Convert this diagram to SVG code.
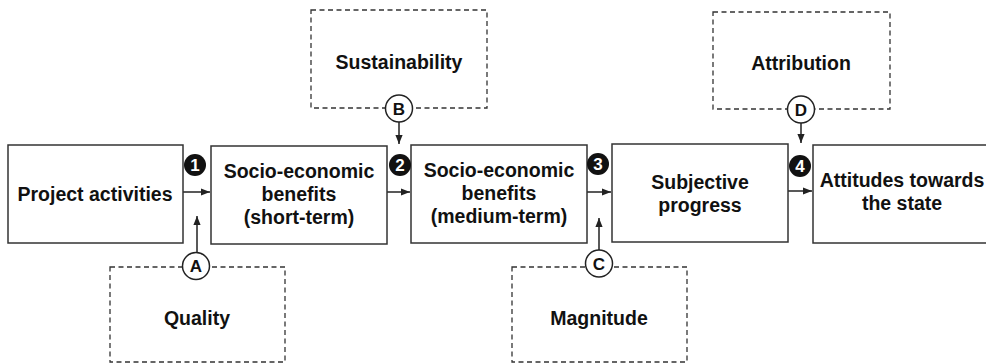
<svg xmlns="http://www.w3.org/2000/svg" width="986" height="363" viewBox="0 0 986 363">
<style>
text{font-family:"Liberation Sans",Arial,sans-serif;font-weight:bold;fill:#111;text-anchor:middle}
.t{font-size:19.5px}
.box{fill:#fff;stroke:#333;stroke-width:1.5}
.dash{fill:none;stroke:#333;stroke-width:1.3;stroke-dasharray:5 3.5}
.ln{stroke:#222;stroke-width:1.5;fill:none}
.badge{fill:#111}
.bt{font-size:17px;fill:#fff}
.circ{fill:#fff;stroke:#222;stroke-width:1.5}
.ct{font-size:17px}
</style>
<defs>
<marker id="ah" viewBox="0 0 10 10" refX="10" refY="5" markerWidth="10" markerHeight="9" markerUnits="userSpaceOnUse" orient="auto">
<path d="M0,1 L10,5 L0,9 Z" fill="#222"/>
</marker>
</defs>
<g id="quality">
<rect class="dash" x="110" y="267" width="175" height="95"/>
<text class="t" x="197" y="325">Quality</text>
</g>
<g id="sustainability">
<rect class="dash" x="311" y="10" width="176" height="98"/>
<text class="t" x="399" y="69">Sustainability</text>
</g>
<g id="magnitude">
<rect class="dash" x="512" y="267" width="175" height="95"/>
<text class="t" x="599" y="325">Magnitude</text>
</g>
<g id="attribution">
<rect class="dash" x="713" y="12" width="177" height="97"/>
<text class="t" x="801" y="70">Attribution</text>
</g>
<g id="connectors">
<line class="ln" x1="183" y1="192" x2="210" y2="192" marker-end="url(#ah)"/>
<line class="ln" x1="387" y1="192" x2="410" y2="192" marker-end="url(#ah)"/>
<line class="ln" x1="587" y1="192" x2="611" y2="192" marker-end="url(#ah)"/>
<line class="ln" x1="788" y1="191" x2="812" y2="191" marker-end="url(#ah)"/>
<line class="ln" x1="197" y1="252" x2="197" y2="216" marker-end="url(#ah)"/>
<line class="ln" x1="399" y1="122" x2="399" y2="144" marker-end="url(#ah)"/>
<line class="ln" x1="599" y1="250" x2="599" y2="218" marker-end="url(#ah)"/>
<line class="ln" x1="801" y1="123" x2="801" y2="143" marker-end="url(#ah)"/>
</g>
<g id="project-activities">
<rect class="box" x="8" y="145" width="175" height="98"/>
<text class="t" x="95" y="201">Project activities</text>
</g>
<g id="seb-short">
<rect class="box" x="211" y="146" width="176" height="98"/>
<text class="t" x="299" y="178">Socio-economic</text>
<text class="t" x="299" y="201">benefits</text>
<text class="t" x="299" y="224">(short-term)</text>
</g>
<g id="seb-medium">
<rect class="box" x="411" y="145" width="176" height="98"/>
<text class="t" x="499" y="177">Socio-economic</text>
<text class="t" x="499" y="200">benefits</text>
<text class="t" x="499" y="223">(medium-term)</text>
</g>
<g id="subjective-progress">
<rect class="box" x="612" y="144" width="176" height="98"/>
<text class="t" x="700" y="189">Subjective</text>
<text class="t" x="700" y="212">progress</text>
</g>
<g id="attitudes">
<rect class="box" x="813" y="145" width="185" height="98"/>
<text class="t" x="902" y="187">Attitudes towards</text>
<text class="t" x="902" y="210">the state</text>
</g>
<g id="badge-1"><circle class="badge" cx="195" cy="165" r="11"/><text class="bt" x="195" y="171">1</text></g>
<g id="badge-2"><circle class="badge" cx="400" cy="165" r="11"/><text class="bt" x="400" y="171">2</text></g>
<g id="badge-3"><circle class="badge" cx="598" cy="164" r="11"/><text class="bt" x="598" y="170">3</text></g>
<g id="badge-4"><circle class="badge" cx="800" cy="166" r="11"/><text class="bt" x="800" y="172">4</text></g>
<g id="circle-a"><circle class="circ" cx="196" cy="266" r="13.5"/><text class="ct" x="196" y="272">A</text></g>
<g id="circle-b"><circle class="circ" cx="399" cy="108.5" r="13.5"/><text class="ct" x="399" y="114.5">B</text></g>
<g id="circle-c"><circle class="circ" cx="599" cy="263.5" r="13.5"/><text class="ct" x="599" y="269.5">C</text></g>
<g id="circle-d"><circle class="circ" cx="801" cy="109.5" r="13.5"/><text class="ct" x="801" y="115.5">D</text></g>
</svg>
